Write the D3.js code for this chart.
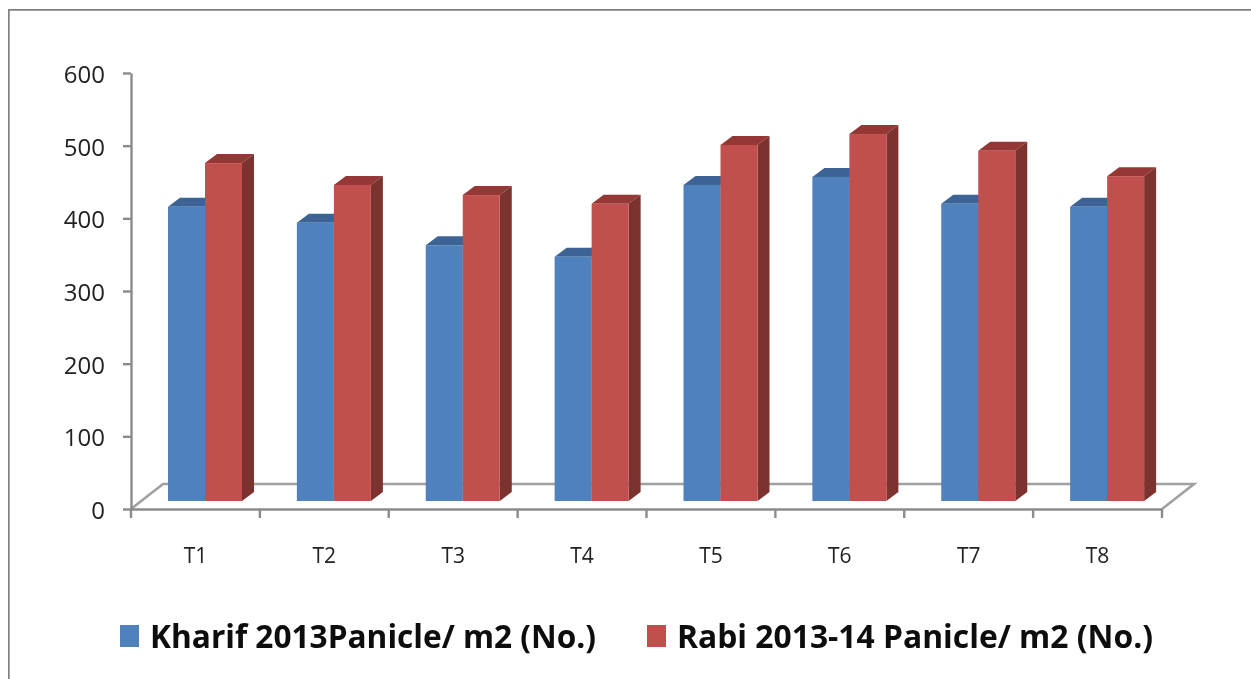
<!DOCTYPE html>
<html><head><meta charset="utf-8">
<script src="https://cdn.jsdelivr.net/npm/d3@7/dist/d3.min.js"></script>
<style>
html,body{margin:0;padding:0;background:#fff;overflow:hidden}
svg{display:block}
</style></head><body>
<svg id="c" width="1251" height="679"></svg>
<script>
const categories=["T1","T2","T3","T4","T5","T6","T7","T8"];
const seriesNames=["Kharif 2013Panicle/ m2 (No.)","Rabi 2013-14 Panicle/ m2 (No.)"];
const kharif=[405,383,352,336,435,446,409,405];
const rabi=[465,435,421,409,490,505,482,447];
const yTicks=[0,100,200,300,400,500,600];
const front=["#4f81bd","#c0504d"], top_=["#3c6494","#953735"], side=["#375d8c","#7b302e"];
const axisColor="#8b8b8b";

const svg=d3.select("#c");
const g=svg.append("g").attr("filter","url(#soft)");
svg.append("defs").append("filter").attr("id","soft").attr("x",0).attr("y",0).attr("width",1).attr("height",1)
  .append("feGaussianBlur").attr("stdDeviation",0.5);

g.append("path").attr("d","M8.5,679V9.5H1251").attr("fill","none").attr("stroke","#808080").attr("stroke-width",2.4);

const x=d3.scaleBand().domain(categories).range([131,1162]);
const y=d3.scaleLinear().domain([0,600]).range([509,73]);
const depth={dx:12,dy:-9,floorX:32,floorY:-25,base:-8};

// floor
g.append("path")
 .attr("d",`M${x.range()[0]},${y(0)}l${depth.floorX},${depth.floorY}H${x.range()[1]+depth.floorX}l${-depth.floorX},${-depth.floorY}`)
 .attr("fill","none").attr("stroke","#a0a0a0").attr("stroke-width",2.6);

// axes
const ya=d3.axisLeft(y).tickValues(yTicks).tickSize(8).tickPadding(18).tickSizeOuter(0);
const yg=g.append("g").attr("transform","translate(131,0)").call(ya);
const xa=d3.axisBottom(x).tickSize(0).tickPadding(0);
const xg=g.append("g").attr("transform",`translate(0,${y(0)})`).call(xa);
[yg,xg].forEach(s=>{s.selectAll("path,line").attr("stroke",axisColor).attr("stroke-width",2.4);});
yg.selectAll("text").attr("font-family","'Open Sans',sans-serif").attr("font-size",24).attr("fill","#222").attr("dy","0.39em");
xg.selectAll("text").attr("font-family","'Open Sans',sans-serif").attr("font-size",21).attr("fill","#222").attr("dy",0).attr("y",54);
// x ticks at band boundaries
const edges=categories.map(c=>x(c)).concat(x.range()[1]);
xg.selectAll("line.edge").data(edges).join("line").attr("class","edge")
  .attr("x1",d=>d).attr("x2",d=>d).attr("y1",0).attr("y2",9).attr("stroke",axisColor).attr("stroke-width",2.4);

// bars
const barW=37, inset=37;
[kharif,rabi].forEach((vals,s)=>{
  const bars=g.append("g").selectAll("g").data(vals).join("g")
    .attr("transform",(d,i)=>`translate(${x(categories[i])+inset+s*barW},${depth.base})`);
  bars.append("path").attr("fill",top_[s])
    .attr("d",d=>`M0,${y(d)}l${depth.dx},${depth.dy}h${barW}l${-depth.dx},${-depth.dy}z`);
  bars.append("path").attr("fill",side[s])
    .attr("d",d=>`M${barW},${y(d)}l${depth.dx},${depth.dy}V${y(0)+depth.dy}l${-depth.dx},${-depth.dy}z`);
  bars.append("rect").attr("fill",front[s]).attr("x",0).attr("width",barW)
    .attr("y",d=>y(d)).attr("height",d=>y(0)-y(d));
});

// legend
const legendX=[120,647], legendText=[150,677], legendLen=[446,476];
seriesNames.forEach((n,i)=>{
  g.append("rect").attr("x",legendX[i]).attr("y",625).attr("width",19).attr("height",22).attr("fill",front[i]);
  g.append("text").attr("x",legendText[i]).attr("y",648).text(n)
   .attr("font-family","'Open Sans',sans-serif").attr("font-weight",700).attr("font-size",32)
   .attr("textLength",legendLen[i]).attr("lengthAdjust","spacingAndGlyphs").attr("fill","#0a0a0a");
});
</script>
</body></html>
